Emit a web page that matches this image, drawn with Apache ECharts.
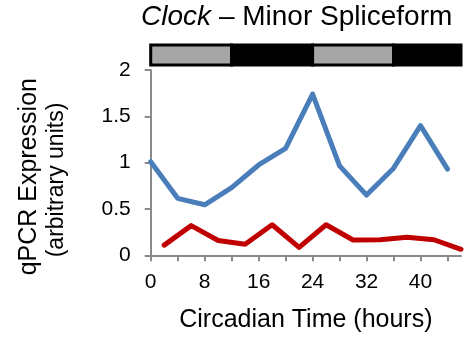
<!DOCTYPE html>
<html>
<head>
<meta charset="utf-8">
<script src="https://cdn.jsdelivr.net/npm/echarts@6/dist/echarts.min.js"></script>
<style>
  html, body { margin: 0; padding: 0; background: #fff; }
  #chart { width: 466px; height: 339px; }
</style>
</head>
<body>
<div id="chart"></div>
<script>
// Circadian sampling times (hours) for each series
const hoursMain = [0, 4, 8, 12, 16, 20, 24, 28, 32, 36, 40, 44];
const exprMain = [1.01, 0.615, 0.545, 0.73, 0.975, 1.155, 1.74, 0.965, 0.65, 0.94, 1.40, 0.93];

const hoursMinor = [2, 6, 10, 14, 18, 22, 26, 30, 34, 38, 42, 46];
const exprMinor = [0.11, 0.32, 0.16, 0.12, 0.33, 0.085, 0.33, 0.165, 0.168, 0.195, 0.168, 0.065];

// Light/dark phases: [start hour, end hour, phase]
const phaseStart = [0, 12, 24, 36];
const phaseEnd = [12, 24, 36, 46];
const phaseKind = ['light', 'dark', 'light', 'dark'];

const xTicks = [0, 4, 8, 12, 16, 20, 24, 28, 32, 36, 40, 44];
const xLabels = [0, 8, 16, 24, 32, 40];
const yTicks = [0, 0.5, 1, 1.5, 2];

const FONT = "'Liberation Sans', Arial, sans-serif";
const AXIS_GREY = '#8a8a8a';

const chart = echarts.init(document.getElementById('chart'));

const pair = (xs, ys) => xs.map((x, i) => [x, ys[i]]);
const phaseData = phaseStart.map((s, i) => [s, phaseEnd[i], phaseKind[i]]);

chart.setOption({
  animation: false,
  backgroundColor: '#fff',
  grid: [
    { left: 150.7, top: 70, width: 310.3, height: 185.3 },
    { left: 150.7, top: 45, width: 310.3, height: 20 }
  ],
  xAxis: [
    {
      gridIndex: 0, type: 'value', min: 0, max: 46,
      name: 'Circadian Time (hours)', nameLocation: 'middle', nameGap: 52,
      nameTextStyle: { fontFamily: FONT, fontSize: 25, color: '#000' },
      axisLine: { show: true, lineStyle: { color: AXIS_GREY, width: 2 } },
      axisTick: { show: true, length: 6, customValues: xTicks, lineStyle: { color: AXIS_GREY, width: 2 } },
      axisLabel: { customValues: xLabels, margin: 16, fontFamily: FONT, fontSize: 21, color: '#000' },
      splitLine: { show: false }
    },
    {
      gridIndex: 1, type: 'value', min: 0, max: 46, show: false
    }
  ],
  yAxis: [
    {
      gridIndex: 0, type: 'value', min: 0, max: 2,
      axisLine: { show: true, lineStyle: { color: AXIS_GREY, width: 2 } },
      axisTick: { show: true, length: 6, customValues: yTicks, lineStyle: { color: AXIS_GREY, width: 2 } },
      axisLabel: { customValues: yTicks, margin: 20, fontFamily: FONT, fontSize: 21, color: '#000' },
      splitLine: { show: false }
    },
    {
      gridIndex: 1, type: 'value', min: 0, max: 1, show: false
    }
  ],
  graphic: [
    {
      type: 'text', x: 296.7, y: 17.5,
      style: {
        text: '{i|Clock} – Minor Spliceform',
        align: 'center', verticalAlign: 'middle',
        font: "28px " + FONT, fill: '#000',
        rich: { i: { fontStyle: 'italic', fontSize: 28, fontFamily: FONT, fill: '#000' } }
      }
    },
    {
      type: 'text', x: 29, y: 176.7, rotation: Math.PI / 2,
      style: { text: 'qPCR Expression', align: 'center', verticalAlign: 'middle', font: "25px " + FONT, fill: '#000' }
    },
    {
      type: 'text', x: 57, y: 180, rotation: Math.PI / 2,
      style: { text: '(arbitrary units)', align: 'center', verticalAlign: 'middle', font: "23px " + FONT, fill: '#000' }
    }
  ],
  series: [
    {
      type: 'custom', xAxisIndex: 1, yAxisIndex: 1,
      data: phaseData,
      renderItem: function (params, api) {
        const p0 = api.coord([api.value(0), 1]);
        const p1 = api.coord([api.value(1), 0]);
        const light = phaseKind[params.dataIndex] === 'light';
        return {
          type: 'rect',
          shape: { x: p0[0], y: p0[1], width: p1[0] - p0[0], height: p1[1] - p0[1] },
          style: { fill: light ? '#a6a6a6' : '#000', stroke: '#000', lineWidth: 3 }
        };
      }
    },
    {
      type: 'line', xAxisIndex: 0, yAxisIndex: 0,
      data: pair(hoursMain, exprMain),
      showSymbol: false, symbol: 'none',
      lineStyle: { color: '#4a7ebb', width: 5, cap: 'round', join: 'round' }
    },
    {
      type: 'line', xAxisIndex: 0, yAxisIndex: 0,
      data: pair(hoursMinor, exprMinor),
      showSymbol: false, symbol: 'none',
      lineStyle: { color: '#c00000', width: 5, cap: 'round', join: 'round' }
    }
  ]
});
</script>
</body>
</html>
